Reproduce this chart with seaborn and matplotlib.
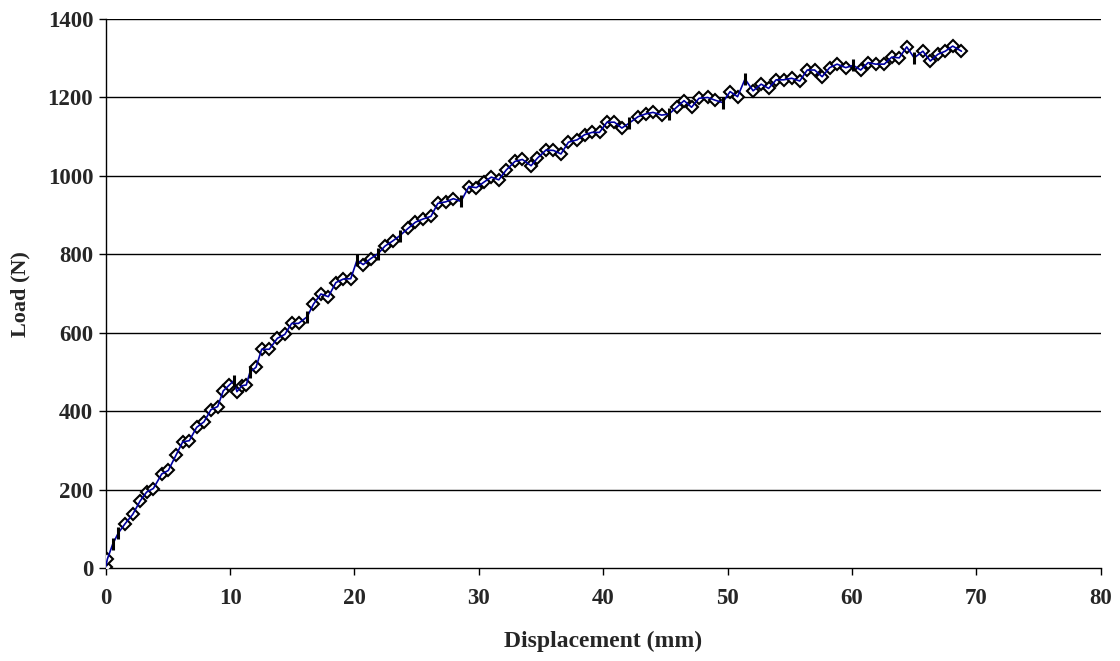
import matplotlib
matplotlib.use("Agg")
import matplotlib.pyplot as plt
import seaborn as sns
import pandas as pd

# Load-displacement record (mm, N); points flagged 0 carry no marker
disp = [0.0, 0.13, 0.56, 1.0, 1.55, 2.17, 2.76, 3.29, 3.83, 4.5, 5.03, 5.65,
        6.19, 6.72, 7.31, 7.9, 8.46, 9.0, 9.45, 9.94, 10.3, 10.55, 10.95, 11.3,
        11.6, 12.08, 12.54, 13.15, 13.8, 14.4, 14.95, 15.5, 16.2, 16.7, 17.3,
        17.9, 18.5, 19.1, 19.7, 20.2, 20.7, 21.3, 21.9, 22.45, 23.07, 23.66,
        24.3, 24.9, 25.5, 26.15, 26.7, 27.35, 27.95, 28.56, 29.2, 29.8, 30.4,
        31.0, 31.6, 32.2, 32.9, 33.5, 34.2, 34.7, 35.4, 36.0, 36.6, 37.2, 37.9,
        38.5, 39.1, 39.7, 40.3, 40.9, 41.5, 42.1, 42.8, 43.4, 44.0, 44.7, 45.3,
        45.9, 46.5, 47.1, 47.7, 48.4, 49.0, 49.6, 50.2, 50.8, 51.4, 52.05, 52.7,
        53.3, 53.9, 54.5, 55.15, 55.8, 56.4, 57.0, 57.6, 58.2, 58.8, 59.5, 60.1,
        60.7, 61.3, 61.9, 62.6, 63.2, 63.8, 64.4, 65.0, 65.7, 66.3, 66.9, 67.5,
        68.1, 68.8]
load = [3, 23, 61, 89, 113, 137, 171, 194, 203, 240, 249, 288,
        322, 325, 359, 373, 404, 412, 452, 467, 478, 450, 465, 467,
        500, 512, 558, 558, 586, 596, 624, 624, 641, 673, 699,
        692, 728, 737, 738, 785, 774, 789, 802, 821, 834, 848,
        866, 882, 890, 897, 930, 934, 942, 935, 973, 970, 984,
        997, 990, 1015, 1037, 1042, 1026, 1045, 1066, 1065, 1056, 1086, 1092,
        1105, 1111, 1111, 1137, 1137, 1122, 1135, 1151, 1158, 1162, 1155, 1158,
        1175, 1192, 1175, 1198, 1200, 1193, 1187, 1215, 1202, 1247, 1217, 1234,
        1223, 1245, 1245, 1249, 1242, 1270, 1270, 1253, 1276, 1285, 1276, 1282,
        1270, 1289, 1285, 1285, 1303, 1301, 1329, 1301, 1318, 1293, 1310, 1318,
        1331, 1318]
marked = [1, 1, 0, 0, 1, 1, 1, 1, 1, 1, 1, 1,
          1, 1, 1, 1, 1, 1, 1, 1, 0, 1, 1, 1,
          0, 1, 1, 1, 1, 1, 1, 1, 0, 1, 1,
          1, 1, 1, 1, 0, 1, 1, 0, 1, 1, 0,
          1, 1, 1, 1, 1, 1, 1, 0, 1, 1, 1,
          1, 1, 1, 1, 1, 1, 1, 1, 1, 1, 1, 1,
          1, 1, 1, 1, 1, 1, 0, 1, 1, 1, 1, 0,
          1, 1, 1, 1, 1, 1, 0, 1, 1, 0, 1, 1,
          1, 1, 1, 1, 1, 1, 1, 1, 1, 1, 1, 0,
          1, 1, 1, 1, 1, 1, 1, 0, 1, 1, 1, 1,
          1, 1]

x_ticks = [0, 10, 20, 30, 40, 50, 60, 70, 80]
y_ticks = [0, 200, 400, 600, 800, 1000, 1200, 1400]

df = pd.DataFrame({"disp": disp, "load": load, "marked": marked})

sns.set_theme(style="white")
plt.rcParams["font.family"] = ["Liberation Serif", "DejaVu Serif"]
plt.rcParams["font.weight"] = "bold"

fig = plt.figure(figsize=(11.2, 6.61), dpi=100)
ax = fig.add_axes([0.0944, 0.1405, 0.8884, 0.8307])

for yv in y_ticks[1:]:
    ax.axhline(yv, color="black", lw=1.0, zorder=0)

mark_idx = [i for i, m in enumerate(marked) if m]
# hollow diamonds first, then the blue trace on top so it shows through them
sns.lineplot(data=df, x="disp", y="load", sort=False, estimator=None, ax=ax,
             color="black", lw=0, marker="D", markersize=6.3,
             markerfacecolor="white", markeredgecolor="black",
             markeredgewidth=1.5, markevery=mark_idx, zorder=3)
sns.lineplot(data=df, x="disp", y="load", sort=False, estimator=None, ax=ax,
             color="#0000a0", lw=1.2, zorder=4)
spikes = df[df["marked"] == 0]
sns.scatterplot(data=spikes, x="disp", y="load", ax=ax, marker="|", s=80,
                color="black", linewidth=2.2, zorder=5)

ax.set_xlim(0, 80)
ax.set_ylim(0, 1400)
ax.set_xticks(x_ticks)
ax.set_yticks(y_ticks)
ax.tick_params(axis="both", which="both", direction="out", length=5,
               width=1, color="black", labelsize=16.5, left=True, bottom=True)
ax.tick_params(axis="y", pad=4)
ax.tick_params(axis="x", pad=9)
for lab in ax.get_xticklabels() + ax.get_yticklabels():
    lab.set_fontweight("bold")
for side in ("top", "right"):
    ax.spines[side].set_visible(False)
for side in ("left", "bottom"):
    ax.spines[side].set_color("black")
    ax.spines[side].set_linewidth(1.0)

ax.set_xlabel("Displacement (mm)", fontsize=17, fontweight="bold", labelpad=16)
ax.set_ylabel("Load (N)", fontsize=16, fontweight="bold", labelpad=12)

fig.savefig("out.png", dpi=100)
